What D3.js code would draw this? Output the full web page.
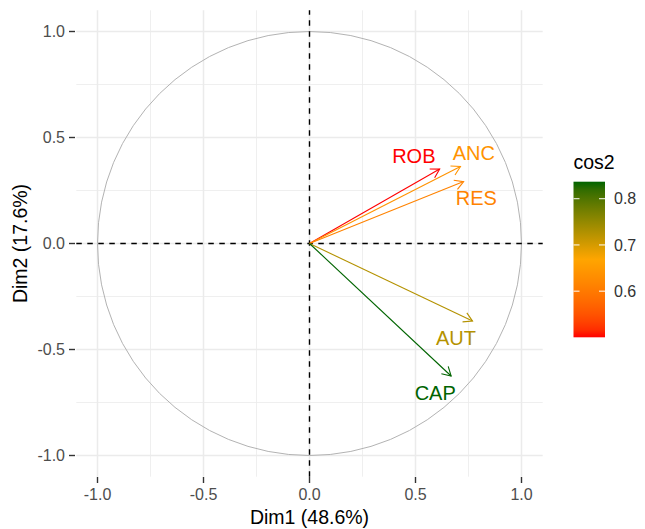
<!DOCTYPE html>
<html>
<head>
<meta charset="utf-8">
<script src="https://cdn.jsdelivr.net/npm/d3@7"></script>
<style>
  body { margin: 0; background: #fff; }
  text { font-family: "Liberation Sans", Arial, sans-serif; }
</style>
</head>
<body>
<div id="chart"></div>
<script>
// variables (correlation circle)
var vars = ['ROB', 'ANC', 'RES', 'AUT', 'CAP']
var dim1 = [0.614, 0.712, 0.727, 0.769, 0.668]
var dim2 = [0.351, 0.363, 0.292, -0.366, -0.625]
// label spots (data units)
var labX = [0.492, 0.775, 0.787, 0.691, 0.593]
var labY = [0.416, 0.428, 0.216, -0.447, -0.703]

var majorTicks = [-1.0, -0.5, 0.0, 0.5, 1.0]
var minorTicks = [-0.75, -0.25, 0.25, 0.75]
var legendTicks = [0.6, 0.7, 0.8]
var gradCols = ['red', 'orange', 'darkgreen']

var width = 645, height = 529

var cos2 = dim1.map(function(d, i) { return d * d + dim2[i] * dim2[i] })
var cmin = d3.min(cos2), cmax = d3.max(cos2)

var fmt = function(t) { return d3.format('.1f')(t).replace('\u2212', '-') }

var color = d3.scaleLinear()
    .domain([cmin, (cmin + cmax) / 2, cmax])
    .range(gradCols)
    .interpolate(d3.interpolateLab)

var x = d3.scaleLinear().domain([-1.1, 1.1]).range([76.3, 542.7])
var y = d3.scaleLinear().domain([-1.1, 1.1]).range([476.7, 10.3])

var svg = d3.select('#chart')
    .append('svg')
    .attr('width', width)
    .attr('height', height)

var grid = svg.append('g')

// minor grid
grid.selectAll('.minx').data(minorTicks).enter().append('line')
    .attr('x1', function(d) { return x(d) }).attr('x2', function(d) { return x(d) })
    .attr('y1', y(-1.1)).attr('y2', y(1.1))
    .attr('stroke', '#ebebeb').attr('stroke-width', 0.8)
grid.selectAll('.miny').data(minorTicks).enter().append('line')
    .attr('y1', function(d) { return y(d) }).attr('y2', function(d) { return y(d) })
    .attr('x1', x(-1.1)).attr('x2', x(1.1))
    .attr('stroke', '#ebebeb').attr('stroke-width', 0.8)

// major grid
grid.selectAll('.majx').data(majorTicks).enter().append('line')
    .attr('x1', function(d) { return x(d) }).attr('x2', function(d) { return x(d) })
    .attr('y1', y(-1.1)).attr('y2', y(1.1))
    .attr('stroke', '#ebebeb').attr('stroke-width', 1.5)
grid.selectAll('.majy').data(majorTicks).enter().append('line')
    .attr('y1', function(d) { return y(d) }).attr('y2', function(d) { return y(d) })
    .attr('x1', x(-1.1)).attr('x2', x(1.1))
    .attr('stroke', '#ebebeb').attr('stroke-width', 1.5)

// unit circle
svg.append('circle')
    .attr('cx', x(0)).attr('cy', y(0))
    .attr('r', x(1) - x(0))
    .attr('fill', 'none')
    .attr('stroke', '#b3b3b3')
    .attr('stroke-width', 1)

// dashed zero lines
svg.append('line')
    .attr('x1', x(-1.1)).attr('x2', x(1.1))
    .attr('y1', y(0)).attr('y2', y(0))
    .attr('stroke', '#000').attr('stroke-width', 1.4)
    .attr('stroke-dasharray', '5.5,5.5')
svg.append('line')
    .attr('y1', y(-1.1)).attr('y2', y(1.1))
    .attr('x1', x(0)).attr('x2', x(0))
    .attr('stroke', '#000').attr('stroke-width', 1.4)
    .attr('stroke-dasharray', '5.5,5.5')

// arrows
var arrows = svg.append('g')
vars.forEach(function(v, i) {
    var x1 = x(0), y1 = y(0), x2 = x(dim1[i]), y2 = y(dim2[i])
    var c = color(cos2[i])
    var ang = Math.atan2(y2 - y1, x2 - x1)
    var len = 10, a = Math.PI / 6
    arrows.append('line')
        .attr('x1', x1).attr('y1', y1).attr('x2', x2).attr('y2', y2)
        .attr('stroke', c).attr('stroke-width', 1.1)
    arrows.append('path')
        .attr('d', 'M' + (x2 - len * Math.cos(ang - a)) + ',' + (y2 - len * Math.sin(ang - a)) +
            'L' + x2 + ',' + y2 +
            'L' + (x2 - len * Math.cos(ang + a)) + ',' + (y2 - len * Math.sin(ang + a)))
        .attr('fill', 'none').attr('stroke', c).attr('stroke-width', 1.1)
})

// labels
svg.append('g').selectAll('text')
    .data(vars)
    .enter()
    .append('text')
    .attr('x', function(d, i) { return x(labX[i]) })
    .attr('y', function(d, i) { return y(labY[i]) + 7.2 })
    .attr('text-anchor', 'middle')
    .attr('font-size', 20)
    .attr('fill', function(d, i) { return color(cos2[i]) })
    .text(function(d) { return d })

// axes
var axes = svg.append('g')
majorTicks.forEach(function(t) {
    axes.append('line')
        .attr('x1', x(t)).attr('x2', x(t))
        .attr('y1', 477).attr('y2', 483)
        .attr('stroke', '#333').attr('stroke-width', 1.4)
    axes.append('text')
        .attr('x', x(t)).attr('y', 500)
        .attr('text-anchor', 'middle')
        .attr('font-size', 16).attr('fill', '#4d4d4d')
        .text(fmt(t))
    axes.append('line')
        .attr('y1', y(t)).attr('y2', y(t))
        .attr('x1', 69).attr('x2', 75)
        .attr('stroke', '#333').attr('stroke-width', 1.4)
    axes.append('text')
        .attr('x', 65).attr('y', y(t) + 5.7)
        .attr('text-anchor', 'end')
        .attr('font-size', 16).attr('fill', '#4d4d4d')
        .text(fmt(t))
})

svg.append('text')
    .attr('x', x(0)).attr('y', 524)
    .attr('text-anchor', 'middle')
    .attr('font-size', 19.5)
    .text('Dim1 (48.6%)')
svg.append('text')
    .attr('transform', 'translate(27,' + y(0) + ') rotate(-90)')
    .attr('text-anchor', 'middle')
    .attr('font-size', 19.5)
    .text('Dim2 (17.6%)')

// legend colourbar
var lg = svg.append('g')
var barTop = 181.7, barBot = 337.3, barX = 573.5, barW = 31.5
var ly = d3.scaleLinear().domain([cmin, cmax]).range([barBot, barTop])

var defs = svg.append('defs')
var grad = defs.append('linearGradient')
    .attr('id', 'cosgrad')
    .attr('x1', 0).attr('y1', 1).attr('x2', 0).attr('y2', 0)
d3.range(0, 1.0001, 0.05).forEach(function(p) {
    grad.append('stop')
        .attr('offset', p)
        .attr('stop-color', color(cmin + p * (cmax - cmin)))
})

lg.append('rect')
    .attr('x', barX).attr('y', barTop)
    .attr('width', barW).attr('height', barBot - barTop)
    .attr('fill', 'url(#cosgrad)')

legendTicks.forEach(function(t) {
    lg.append('line')
        .attr('x1', barX).attr('x2', barX + 6)
        .attr('y1', ly(t)).attr('y2', ly(t))
        .attr('stroke', '#fff').attr('stroke-width', 1)
    lg.append('line')
        .attr('x1', barX + barW - 6).attr('x2', barX + barW)
        .attr('y1', ly(t)).attr('y2', ly(t))
        .attr('stroke', '#fff').attr('stroke-width', 1)
    lg.append('text')
        .attr('x', 614).attr('y', ly(t) + 5.7)
        .attr('font-size', 16).attr('fill', '#333')
        .text(fmt(t))
})

lg.append('text')
    .attr('x', barX).attr('y', 169)
    .attr('font-size', 19.5)
    .text('cos2')
</script>
</body>
</html>
